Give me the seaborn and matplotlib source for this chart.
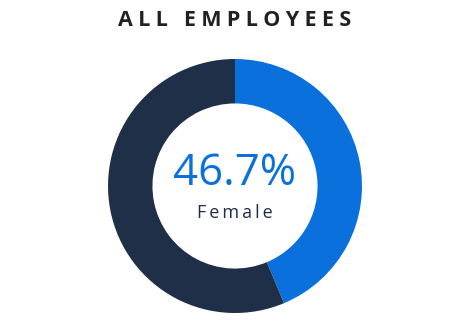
import matplotlib
matplotlib.use("Agg")
import matplotlib.pyplot as plt
import seaborn as sns

# Data
groups = ["Female", "Male"]
shares = [43.7, 56.3]          # drawn wedge sizes (percent)
colors = ["#0A70DC", "#1F2F47"]
center_value = "46.7%"
center_label = "Female"
title = "ALL EMPLOYEES"

sns.set_theme(style="white")
plt.rcParams["font.family"] = ["Open Sans", "DejaVu Sans"]

fig = plt.figure(figsize=(4.69, 3.26), dpi=100)
fig.patch.set_facecolor("white")
ax = fig.add_axes([108 / 469, 13 / 326, 254 / 469, 254 / 326])

ax.pie(shares, colors=colors, startangle=90, counterclock=False,
       radius=1.0, wedgeprops=dict(width=0.35, linewidth=0, edgecolor="none"))
ax.set_xlim(-1, 1)
ax.set_ylim(-1, 1)
ax.set_aspect("equal")
ax.axis("off")


def spaced(s, sep="\u2009"):
    return sep.join(s)

words = title.split(" ")
fig.text(235 / 469, 1 - 21 / 326, "\u2002\u2005".join(spaced(w, "\u2005") for w in words),
         ha="center", va="center", fontsize=15.5, fontweight="bold", color="#1E2126")
ax.text(0, 0.1, center_value, ha="center", va="center", fontsize=31.5,
        color="#0A70DC")
ax.text(0, -0.215, spaced(center_label, "\u2009"), ha="center", va="center",
        fontsize=13, color="#1F2F47")

fig.savefig("out.png", dpi=100, facecolor="white")
